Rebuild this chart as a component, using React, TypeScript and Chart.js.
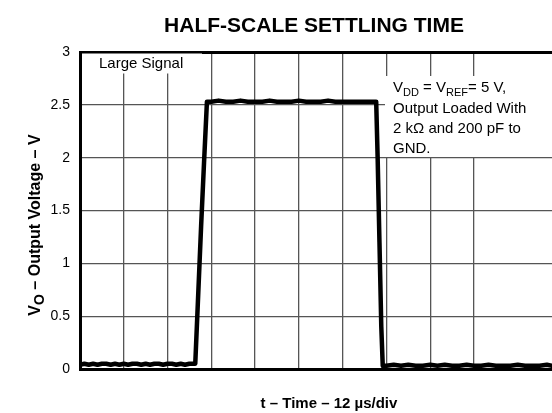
import React, { useEffect, useRef } from "react";
import { Chart, registerables } from "chart.js";

Chart.register(...registerables);

// time in µs (12 µs per division)
const timeUs: number[] = [
  0, 1.2, 2.4, 3.6, 4.8, 6, 7.2, 8.4, 9.6, 10.8, 12, 13.2, 14.4, 15.6, 16.8, 18, 19.2, 20.4, 21.6, 22.8, 24, 25.2, 26.4, 27.6, 28.8, 30, 31.2, 31.6,
  32.4, 33.2, 34.0, 34.8,
  36, 38, 40, 42, 44, 46, 48, 50, 52, 54, 56, 58, 60, 62, 64, 66, 68, 70, 72, 74, 76, 78, 80, 81.2,
  81.6, 82.1, 82.6, 83.0,
  84, 86, 88, 90, 92, 94, 96, 98, 100, 102, 104, 106, 108, 110, 112, 114, 116, 118, 120, 122, 124, 126, 128, 129.4,
];
const voltage: number[] = [
  0.04, 0.05, 0.04, 0.05, 0.04, 0.05, 0.05, 0.04, 0.05, 0.04, 0.05, 0.04, 0.05, 0.05, 0.04, 0.05, 0.04, 0.05, 0.05, 0.04, 0.05, 0.05, 0.04, 0.05, 0.04, 0.05, 0.05, 0.05,
  0.7, 1.35, 1.95, 2.53,
  2.53, 2.54, 2.53, 2.53, 2.54, 2.53, 2.53, 2.53, 2.54, 2.53, 2.53, 2.53, 2.54, 2.53, 2.53, 2.53, 2.54, 2.53, 2.53, 2.53, 2.53, 2.53, 2.53, 2.53,
  2.0, 1.2, 0.4, 0.03,
  0.03, 0.04, 0.03, 0.04, 0.03, 0.03, 0.04, 0.03, 0.04, 0.03, 0.03, 0.04, 0.03, 0.03, 0.04, 0.03, 0.03, 0.03, 0.04, 0.03, 0.03, 0.03, 0.04, 0.03, 0.03,
];

const yTickLabels: string[] = ["0", "0.5", "1", "1.5", "2", "2.5", "3"];
const xStepUs = 12;
const xMaxUs = 129.4;
const yMax = 3;

const titleText = "HALF-SCALE SETTLING TIME";
const xAxisText = "t – Time – 12 µs/div";
const FONT = '"Liberation Sans", Arial, Helvetica, sans-serif';

type Seg = { t: string; sub?: boolean };

function drawSegs(ctx: CanvasRenderingContext2D, segs: Seg[], x: number, y: number, size: number, bold: boolean, subScale = 0.75) {
  let cx = x;
  for (const s of segs) {
    const sz = s.sub ? Math.round(size * subScale) : size;
    ctx.font = `${bold ? "bold " : ""}${sz}px ${FONT}`;
    ctx.fillText(s.t, cx, s.sub ? y + size * 0.28 : y);
    cx += ctx.measureText(s.t).width;
  }
  return cx - x;
}

function measureSegs(ctx: CanvasRenderingContext2D, segs: Seg[], size: number, bold: boolean, subScale = 0.75) {
  let w = 0;
  for (const s of segs) {
    const sz = s.sub ? Math.round(size * subScale) : size;
    ctx.font = `${bold ? "bold " : ""}${sz}px ${FONT}`;
    w += ctx.measureText(s.t).width;
  }
  return w;
}

const annotPlugin = {
  id: "annot",
  beforeDatasetsDraw(chart: any) {
    const ctx: CanvasRenderingContext2D = chart.ctx;
    const a = chart.chartArea;
    ctx.save();
    ctx.fillStyle = "#fff";
    // Large Signal box
    ctx.fillRect(a.left + 2, a.top + 1.5, 120, 20);
    // conditions box
    ctx.fillRect(a.left + 305, a.top + 24, a.right - (a.left + 305), 81);
    ctx.fillStyle = "#000";
    ctx.textBaseline = "alphabetic";
    ctx.textAlign = "left";
    ctx.font = `15px ${FONT}`;
    ctx.fillText("Large Signal", a.left + 19, a.top + 16);
    const tx = a.left + 313;
    drawSegs(ctx, [{ t: "V" }, { t: "DD", sub: true }, { t: " = V" }, { t: "REF", sub: true }, { t: "= 5 V," }], tx, a.top + 40, 15, false);
    ctx.font = `15px ${FONT}`;
    ctx.fillText("Output Loaded With", tx, a.top + 61);
    ctx.fillText("2 kΩ and 200 pF to", tx, a.top + 81);
    ctx.fillText("GND.", tx, a.top + 101);
    ctx.restore();
  },
  afterDraw(chart: any) {
    const ctx: CanvasRenderingContext2D = chart.ctx;
    const a = chart.chartArea;
    ctx.save();
    ctx.fillStyle = "#000";
    ctx.textAlign = "center";
    ctx.textBaseline = "alphabetic";
    ctx.font = `bold 21px ${FONT}`;
    ctx.fillText(titleText, 314, 32);
    ctx.font = `bold 15px ${FONT}`;
    ctx.fillText(xAxisText, 329, 408);
    // y axis title rotated
    const segs: Seg[] = [{ t: "V" }, { t: "O", sub: true }, { t: " – Output Voltage – V" }];
    ctx.textAlign = "left";
    const w = measureSegs(ctx, segs, 16, true, 0.85);
    ctx.translate(40, 225);
    ctx.rotate(-Math.PI / 2);
    drawSegs(ctx, segs, -w / 2, 0, 16, true, 0.85);
    ctx.restore();
  },
};

export default function App() {
  const ref = useRef<HTMLCanvasElement | null>(null);
  useEffect(() => {
    if (!ref.current) return;
    const chart = new Chart(ref.current, {
      type: "line",
      data: {
        datasets: [
          {
            data: timeUs.map((t, i) => ({ x: t, y: voltage[i] })),
            borderColor: "#000",
            borderWidth: 4.5,
            pointRadius: 0,
            tension: 0,
            borderJoinStyle: "round",
            borderCapStyle: "round",
          },
        ],
      },
      options: {
        responsive: false,
        animation: false,
        devicePixelRatio: 1,
        layout: { padding: { top: 52, right: 0, bottom: 0, left: 0 } },
        plugins: { legend: { display: false }, title: { display: false }, tooltip: { enabled: false } },
        scales: {
          x: {
            type: "linear",
            min: 0,
            max: xMaxUs,
            afterBuildTicks: (s: any) => {
              s.ticks = s.ticks.filter((t: any) => Math.abs(t.value / xStepUs - Math.round(t.value / xStepUs)) < 1e-6);
            },
            afterFit: (s: any) => {
              s.height = 44;
            },
            ticks: { stepSize: xStepUs, display: false },
            grid: { color: "#555", lineWidth: 1.3, drawTicks: false },
            border: { color: "#000", width: 3 },
          },
          y: {
            type: "linear",
            min: 0,
            max: yMax,
            afterFit: (s: any) => {
              s.width = 80;
            },
            ticks: {
              stepSize: 0.5,
              padding: 10,
              color: "#000",
              font: { family: FONT, size: 14 },
              callback: (_v: any, i: number) => yTickLabels[i],
            },
            grid: {
              drawTicks: false,
              color: (c: any) => (c.tick && c.tick.value === yMax ? "#000" : "#555"),
              lineWidth: (c: any) => (c.tick && c.tick.value === yMax ? 3 : 1.3),
            },
            border: { color: "#000", width: 3 },
          },
        },
      } as any,
      plugins: [annotPlugin],
    });
    return () => chart.destroy();
  }, []);
  return (
    <div style={{ position: "fixed", left: 0, top: 0, width: 552, height: 413, background: "#fff" }}>
      <canvas ref={ref} width={552} height={413} style={{ display: "block", width: 552, height: 413 }} />
    </div>
  );
}
